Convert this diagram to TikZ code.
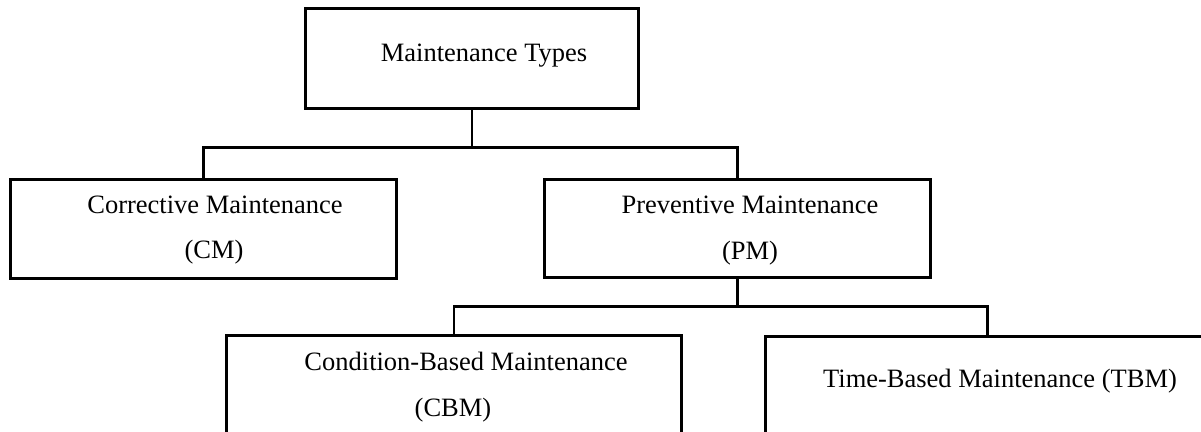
\documentclass[tikz,border=0pt]{standalone}
\usepackage{fontspec}
\setmainfont{Liberation Serif}
\begin{document}
\begin{tikzpicture}[x=1pt,y=-1pt,
  box/.style={draw=black, line width=3.2pt, rectangle, inner sep=0pt, anchor=north west},
  lbl/.style={anchor=base, inner sep=0pt, font=\fontsize{26.5}{30}\selectfont},
  link/.style={draw=black, line width=2.7pt, line cap=rect}]
\clip (0,0) rectangle (1201,431);
% boxes
\node[box, minimum width=333pt, minimum height=100pt] (top) at (304,7) {};
\node[box, minimum width=386pt, minimum height=99pt] (cm) at (9,178) {};
\node[box, minimum width=386pt, minimum height=98pt] (pm) at (543,178) {};
\node[box, minimum width=455pt, minimum height=160pt] (cbm) at (225,334) {};
\node[box, minimum width=444pt, minimum height=160pt] (tbm) at (764,335) {};
% texts
\node[lbl] (ttop) at (484,61) {Maintenance Types};
\node[lbl] (tcm1) at (215,213) {Corrective Maintenance};
\node[lbl] (tcm2) at (214,258) {(CM)};
\node[lbl] (tpm1) at (750,213) {Preventive Maintenance};
\node[lbl] (tpm2) at (750,259) {(PM)};
\node[lbl] (tcbm1) at (466,370) {Condition-Based Maintenance};
\node[lbl] (tcbm2) at (453,416) {(CBM)};
\node[lbl] (ttbm) at (1000,387) {Time-Based Maintenance (TBM)};
% connectors
\draw[link] (top.south) -- ++(0,37) coordinate (bus1);
\draw[link] (cm.north) |- (bus1) -| (pm.north);
\draw[link] (pm.south) -- ++(0,27) coordinate (bus2);
\draw[link] (cbm.north) |- (bus2) -| (tbm.north);
\end{tikzpicture}
\end{document}
